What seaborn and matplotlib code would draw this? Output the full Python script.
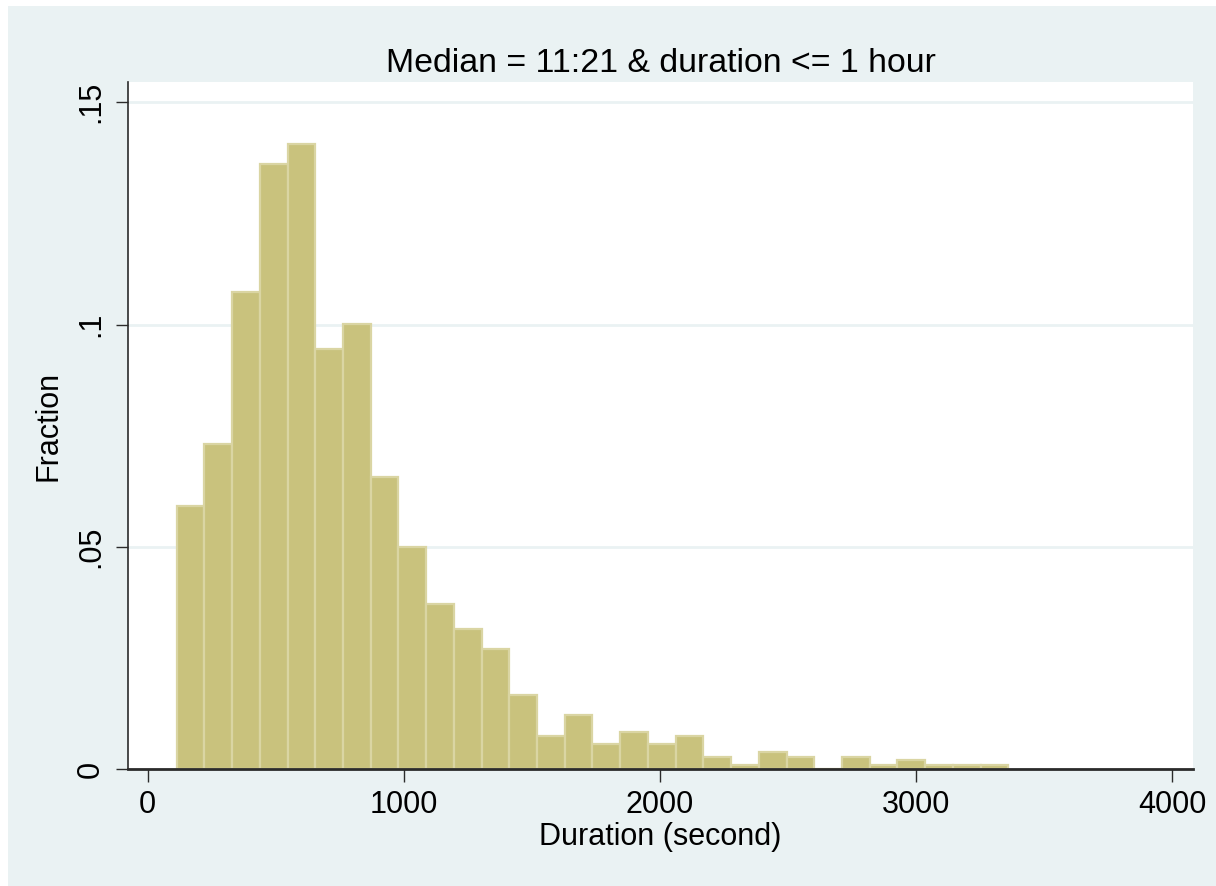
import numpy as np
import pandas as pd
import matplotlib
matplotlib.use("Agg")
import matplotlib.pyplot as plt
import seaborn as sns
from matplotlib.patches import Rectangle

# ---- data ----
bin_first_edge = 113.2      # seconds
bin_width = 108.2           # seconds
fractions = [0.0592, 0.0732, 0.1074, 0.1360, 0.1407, 0.0944, 0.1001, 0.0657,
             0.0500, 0.0371, 0.0315, 0.0270, 0.0167, 0.0075, 0.0121, 0.0056,
             0.0084, 0.0056, 0.0075, 0.0028, 0.0010, 0.0039, 0.0028, 0.0000,
             0.0028, 0.0010, 0.0020, 0.0010, 0.0010, 0.0010]
x_ticks = [0, 1000, 2000, 3000, 4000]
x_ticklabels = ["0", "1000", "2000", "3000", "4000"]
y_ticks = [0, 0.05, 0.10, 0.15]
y_ticklabels = ["0", ".05", ".1", ".15"]
title = "Median = 11:21 & duration <= 1 hour"
xlabel = "Duration (second)"
ylabel = "Fraction"

n_bins = len(fractions)
edges = bin_first_edge + bin_width * np.arange(n_bins + 1)
centers = (edges[:-1] + edges[1:]) / 2
df = pd.DataFrame({"duration": centers, "fraction": fractions})

# ---- style ----
sns.set_style("white")
plt.rcParams['font.family'] = ['Liberation Sans', 'DejaVu Sans']
BG = "#eaf2f3"
FILL = "#c9c27d"
EDGE = "#dad5a3"
AX = "#2b2b2b"
FS = 22
FS_TITLE = 24.4

fig = plt.figure(figsize=(12.16, 8.86), dpi=100, facecolor="white")
bg_rect = Rectangle((8 / 1216, 0), 1 - 8 / 1216, (886 - 6) / 886,
                    transform=fig.transFigure, facecolor=BG,
                    edgecolor="none", zorder=-10)
fig.add_artist(bg_rect)

W, H = 1216, 886
left, right, top, bottom = 128.3, 1192.7, 81.7, 769.3
ax = fig.add_axes([left / W, (H - bottom) / H, (right - left) / W, (bottom - top) / H])
ax.set_zorder(1)
ax.set_facecolor("white")

sns.histplot(data=df, x="duration", weights="fraction",
             binwidth=bin_width, binrange=(float(edges[0]), float(edges[-1])),
             stat="count", color=FILL, alpha=1, edgecolor=EDGE, linewidth=1.6,
             ax=ax, zorder=3)

ax.set_xlim(-75.7, 4079)
ax.set_ylim(0, 0.1546)

ax.set_xticks(x_ticks)
ax.set_xticklabels(x_ticklabels)
ax.set_yticks(y_ticks)
ax.set_yticklabels(y_ticklabels, rotation=90, va="center")

ax.yaxis.grid(True, color=BG, linewidth=2.0, zorder=0)
ax.xaxis.grid(False)
ax.set_axisbelow(True)

for s in ["top", "right"]:
    ax.spines[s].set_visible(False)
for s in ["left", "bottom"]:
    ax.spines[s].set_color(AX)
    ax.spines[s].set_linewidth(1.2)
ax.spines["bottom"].set_linewidth(2.0)
ax.spines["bottom"].set_zorder(5)

ax.tick_params(axis="both", which="major", direction="out", length=9,
               width=1.0, color=AX, labelsize=FS, labelcolor="black",
               bottom=True, left=True, top=False, right=False)
ax.tick_params(axis="x", pad=6)
ax.tick_params(axis="y", pad=7)

ax.set_title(title, fontsize=FS_TITLE, pad=7, color="black")
ax.set_xlabel(xlabel, fontsize=FS, labelpad=1, color="black")
ax.set_ylabel(ylabel, fontsize=FS, labelpad=9, color="black")

fig.savefig("out.png", dpi=100, facecolor=fig.get_facecolor())
